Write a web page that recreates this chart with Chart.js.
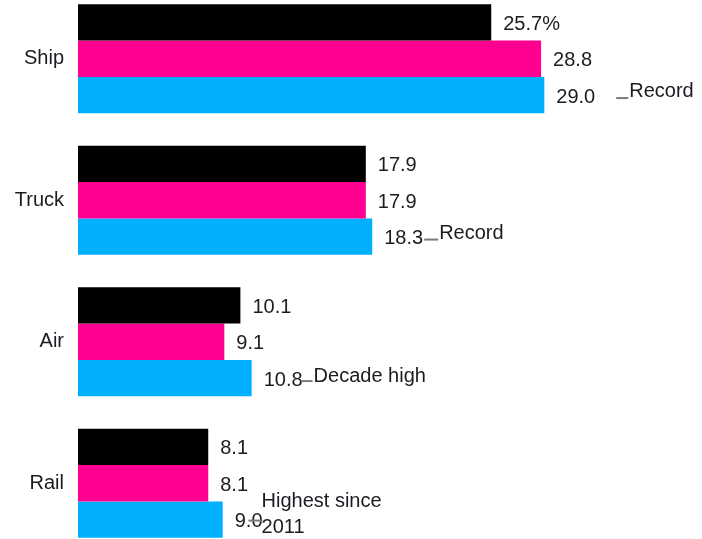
<!DOCTYPE html>
<html>
<head>
<meta charset="utf-8">
<script src="https://cdn.jsdelivr.net/npm/chart.js@4/dist/chart.umd.min.js"></script>
<style>
  html, body { margin: 0; padding: 0; background: #fff; }
  #frame { position: relative; width: 702px; height: 539px; overflow: hidden; }
  #myChart { position: absolute; left: 0; top: -12px; }
</style>
</head>
<body>
<div id="frame"><canvas id="myChart" width="702" height="566"></canvas></div>
<script>
// --- Data ---
const categories = ['Ship', 'Truck', 'Air', 'Rail'];
const seriesA = [25.7, 17.9, 10.1, 8.1];
const seriesB = [28.8, 17.9, 9.1, 8.1];
const seriesC = [29.0, 18.3, 10.8, 9.0];
const notes = [['Record'], ['Record'], ['Decade high'], ['Highest since', '2011']];

const barColors = ['#000000', '#ff0090', '#00b0ff'];
const FONT = "20px 'Liberation Sans', Arial, sans-serif";
const TEXT = '#1b1b22';

// how each note sits next to the last bar's label: gap, dash length, line offsets
const noteLayout = [
    { gap: 21, dash: 12, lines: [-6] },
    { gap: 1, dash: 14, lines: [-5] },
    { gap: -2, dash: 12, lines: [-4] },
    { gap: -14, dash: 14, lines: [-20, 6] }
];

const valueLabels = {
    id: 'valueLabels',
    afterDatasetsDraw(chart) {
        const ctx = chart.ctx;
        ctx.save();
        ctx.font = FONT;
        ctx.fillStyle = TEXT;
        ctx.textBaseline = 'middle';
        ctx.textAlign = 'left';
        chart.data.datasets.forEach((ds, di) => {
            chart.getDatasetMeta(di).data.forEach((bar, i) => {
                let txt = ds.data[i].toFixed(1);
                if (di === 0 && i === 0) txt += '%';
                const x = bar.x + 12;
                const y = bar.y + 2;
                ctx.fillText(txt, x, y);

                // annotations on the latest series
                if (di === 2) {
                    const lay = noteLayout[i];
                    const end = x + ctx.measureText(txt).width;
                    const tx = end + lay.gap + lay.dash;
                    ctx.strokeStyle = '#7a7a7a';
                    ctx.lineWidth = 2;
                    ctx.beginPath();
                    const dy = i === 3 ? y - 1 : y + 1;
                    ctx.moveTo(tx - lay.dash, dy);
                    ctx.lineTo(tx, dy);
                    ctx.stroke();
                    notes[i].forEach((line, li) => {
                        ctx.fillText(line, i === 3 ? tx - 1 : tx + 1, y + lay.lines[li]);
                    });
                }
            });
        });
        ctx.restore();
    }
};

const ctx = document.getElementById('myChart').getContext('2d');
new Chart(ctx, {
    type: 'bar',
    data: {
        labels: categories,
        datasets: [
            { label: 'A', data: seriesA, backgroundColor: barColors[0] },
            { label: 'B', data: seriesB, backgroundColor: barColors[1] },
            { label: 'C', data: seriesC, backgroundColor: barColors[2] }
        ]
    },
    options: {
        indexAxis: 'y',
        responsive: false,
        animation: false,
        devicePixelRatio: 1,
        layout: { padding: { left: 0, right: 13, top: 0, bottom: 0 } },
        datasets: { bar: { categoryPercentage: 0.77, barPercentage: 1, borderWidth: 0 } },
        plugins: { legend: { display: false }, tooltip: { enabled: false } },
        scales: {
            x: { min: 0, max: 38, display: false },
            y: {
                grid: { display: false, drawTicks: false },
                border: { display: false },
                ticks: {
                    color: TEXT,
                    font: { family: "'Liberation Sans', Arial, sans-serif", size: 20 },
                    padding: 14
                },
                afterFit(scale) {
                    scale.width = 78;
                    scale.paddingTop = 0;
                    scale.paddingBottom = 0;
                }
            }
        }
    },
    plugins: [valueLabels]
});
</script>
</body>
</html>
